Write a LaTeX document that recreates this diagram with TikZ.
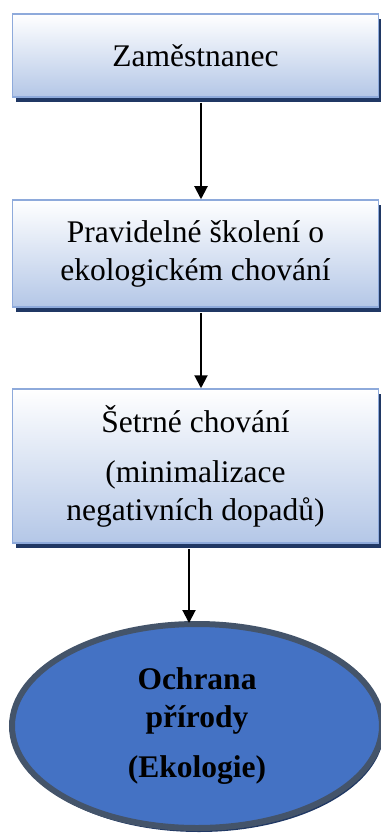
\documentclass[tikz,border=0pt]{standalone}
\usepackage{fontspec}
\setmainfont{Liberation Serif}
\usepackage{tikz}
\usetikzlibrary{shapes.geometric}
\usetikzlibrary{shadows}
\usetikzlibrary{arrows.meta}

\definecolor{ramecek}{HTML}{8EAADB}
\definecolor{spodek}{HTML}{B4C7E7}
\definecolor{stin}{HTML}{203864}
\definecolor{modra}{HTML}{4472C4}
\definecolor{okraj}{HTML}{44546A}

\begin{document}
\begin{tikzpicture}[>={Triangle[length=13pt,width=13pt]}]
		\tikzstyle{krok}=[draw=ramecek,line width=1.5pt,top color=white,bottom color=spodek,minimum width=366pt,align=center,font=\fontsize{31.5}{38}\selectfont,general shadow={fill=stin,shadow xshift=3pt,shadow yshift=-5pt}]
		\tikzstyle{cil}=[draw=okraj,line width=6pt,fill=modra,shape=ellipse,minimum width=370pt,minimum height=204pt,align=center,font=\fontsize{31.5}{38}\selectfont\bfseries,general shadow={fill=stin,shadow xshift=2pt,shadow yshift=-4pt}]
		\tikzstyle{sipka}=[->,line width=2pt]
		
		\useasboundingbox (0,0) rectangle (380pt,-834pt);
		
		\node[krok,minimum height=83pt](zam) at (195.5pt,-55.5pt){Zaměstnanec};
		\node[krok,minimum height=107pt](skol) at (195.5pt,-253.5pt){Pravidelné školení o\\ekologickém chování};
		\node[krok,minimum height=154pt](setr) at (195.5pt,-466pt){Šetrné chování\\[12pt](minimalizace\\negativních dopadů)};
		\node[cil](ochr) at (197pt,-726pt){Ochrana\\přírody\\[12pt](Ekologie)};
		
		\draw[sipka] ([xshift=5.5pt,yshift=-5pt]zam.south) -- ([xshift=5.5pt]skol.north);
		\draw[sipka] ([xshift=5.5pt,yshift=-5pt]skol.south) -- ([xshift=5.5pt]setr.north);
		\draw[sipka] ([xshift=-6.5pt,yshift=-5pt]setr.south) -- ([xshift=-8pt,yshift=-2pt]ochr.north);
\end{tikzpicture}
\end{document}
